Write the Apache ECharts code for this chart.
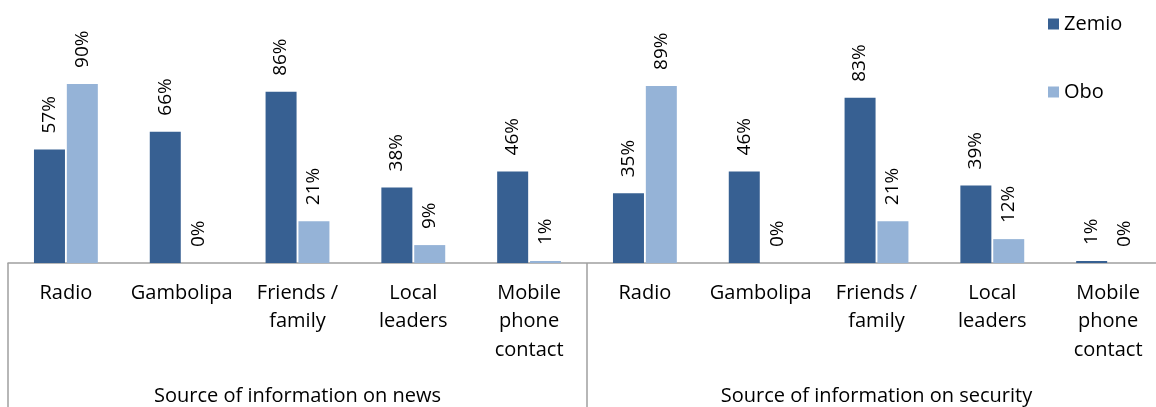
<!DOCTYPE html>
<html>
<head>
<meta charset="utf-8">
<script src="https://cdn.jsdelivr.net/npm/echarts@6/dist/echarts.min.js"></script>
<style>
  html, body { margin: 0; padding: 0; background: #fff; }
  #chart { width: 1156px; height: 407px; }
</style>
</head>
<body>
<div id="chart"></div>
<script>
// Survey answers: where people get news and security information, by town
const groups = ['Source of information on news', 'Source of information on security'];
const sources = ['Radio', 'Gambolipa', 'Friends /\nfamily', 'Local\nleaders', 'Mobile\nphone\ncontact'];

const zemioNews = [57, 66, 86, 38, 46];
const oboNews = [90, 0, 21, 9, 1];
const zemioSecurity = [35, 46, 83, 39, 1];
const oboSecurity = [89, 0, 21, 12, 0];

const categories = sources.concat(sources);
const zemio = zemioNews.concat(zemioSecurity);
const obo = oboNews.concat(oboSecurity);

const FONT = '"Open Sans", "DejaVu Sans", sans-serif';
const barLabel = {
  show: true,
  position: 'top',
  distance: 16,
  rotate: 90,
  align: 'left',
  verticalAlign: 'middle',
  formatter: p => p.value + '%',
  fontFamily: FONT,
  fontSize: 19,
  color: '#000'
};

const chart = echarts.init(document.getElementById('chart'), null, { renderer: 'canvas' });
chart.setOption({
  animation: false,
  backgroundColor: '#fff',
  textStyle: { fontFamily: FONT },
  legend: {
    orient: 'vertical',
    left: 1043,
    top: 7,
    itemGap: 44,
    itemWidth: 11,
    itemHeight: 11,
    icon: 'rect',
    textStyle: { fontFamily: FONT, fontSize: 20, color: '#000', lineHeight: 24 },
    data: ['Zemio', 'Obo']
  },
  // the plot runs a little past the right edge of the canvas
  grid: { left: 8, width: 1158, top: 64, bottom: 144, outerBoundsMode: 'none', containLabel: false },
  xAxis: [
    {
      type: 'category',
      data: categories,
      position: 'bottom',
      axisLine: { show: true, lineStyle: { color: '#a0a0a0', width: 1.5 } },
      axisTick: { show: false },
      axisLabel: {
        interval: 0,
        margin: 16,
        fontFamily: FONT,
        fontSize: 20,
        lineHeight: 28.5,
        color: '#000',
        align: 'center'
      }
    },
    {
      type: 'category',
      data: groups,
      position: 'bottom',
      axisLine: { show: false },
      axisTick: { show: true, length: 150, lineStyle: { color: '#a0a0a0', width: 1.5 } },
      axisLabel: {
        interval: 0,
        margin: 123,
        fontFamily: FONT,
        fontSize: 20,
        color: '#000'
      }
    }
  ],
  yAxis: {
    type: 'value',
    min: 0,
    max: 100,
    show: false,
    splitLine: { show: false }
  },
  series: [
    {
      name: 'Zemio',
      type: 'bar',
      xAxisIndex: 0,
      data: zemio,
      barWidth: 31,
      barGap: '6%',
      itemStyle: { color: '#376092' },
      label: barLabel
    },
    {
      name: 'Obo',
      type: 'bar',
      xAxisIndex: 0,
      data: obo,
      barWidth: 31,
      barGap: '6%',
      itemStyle: { color: '#95B3D7' },
      label: barLabel
    }
  ]
});
</script>
</body>
</html>
